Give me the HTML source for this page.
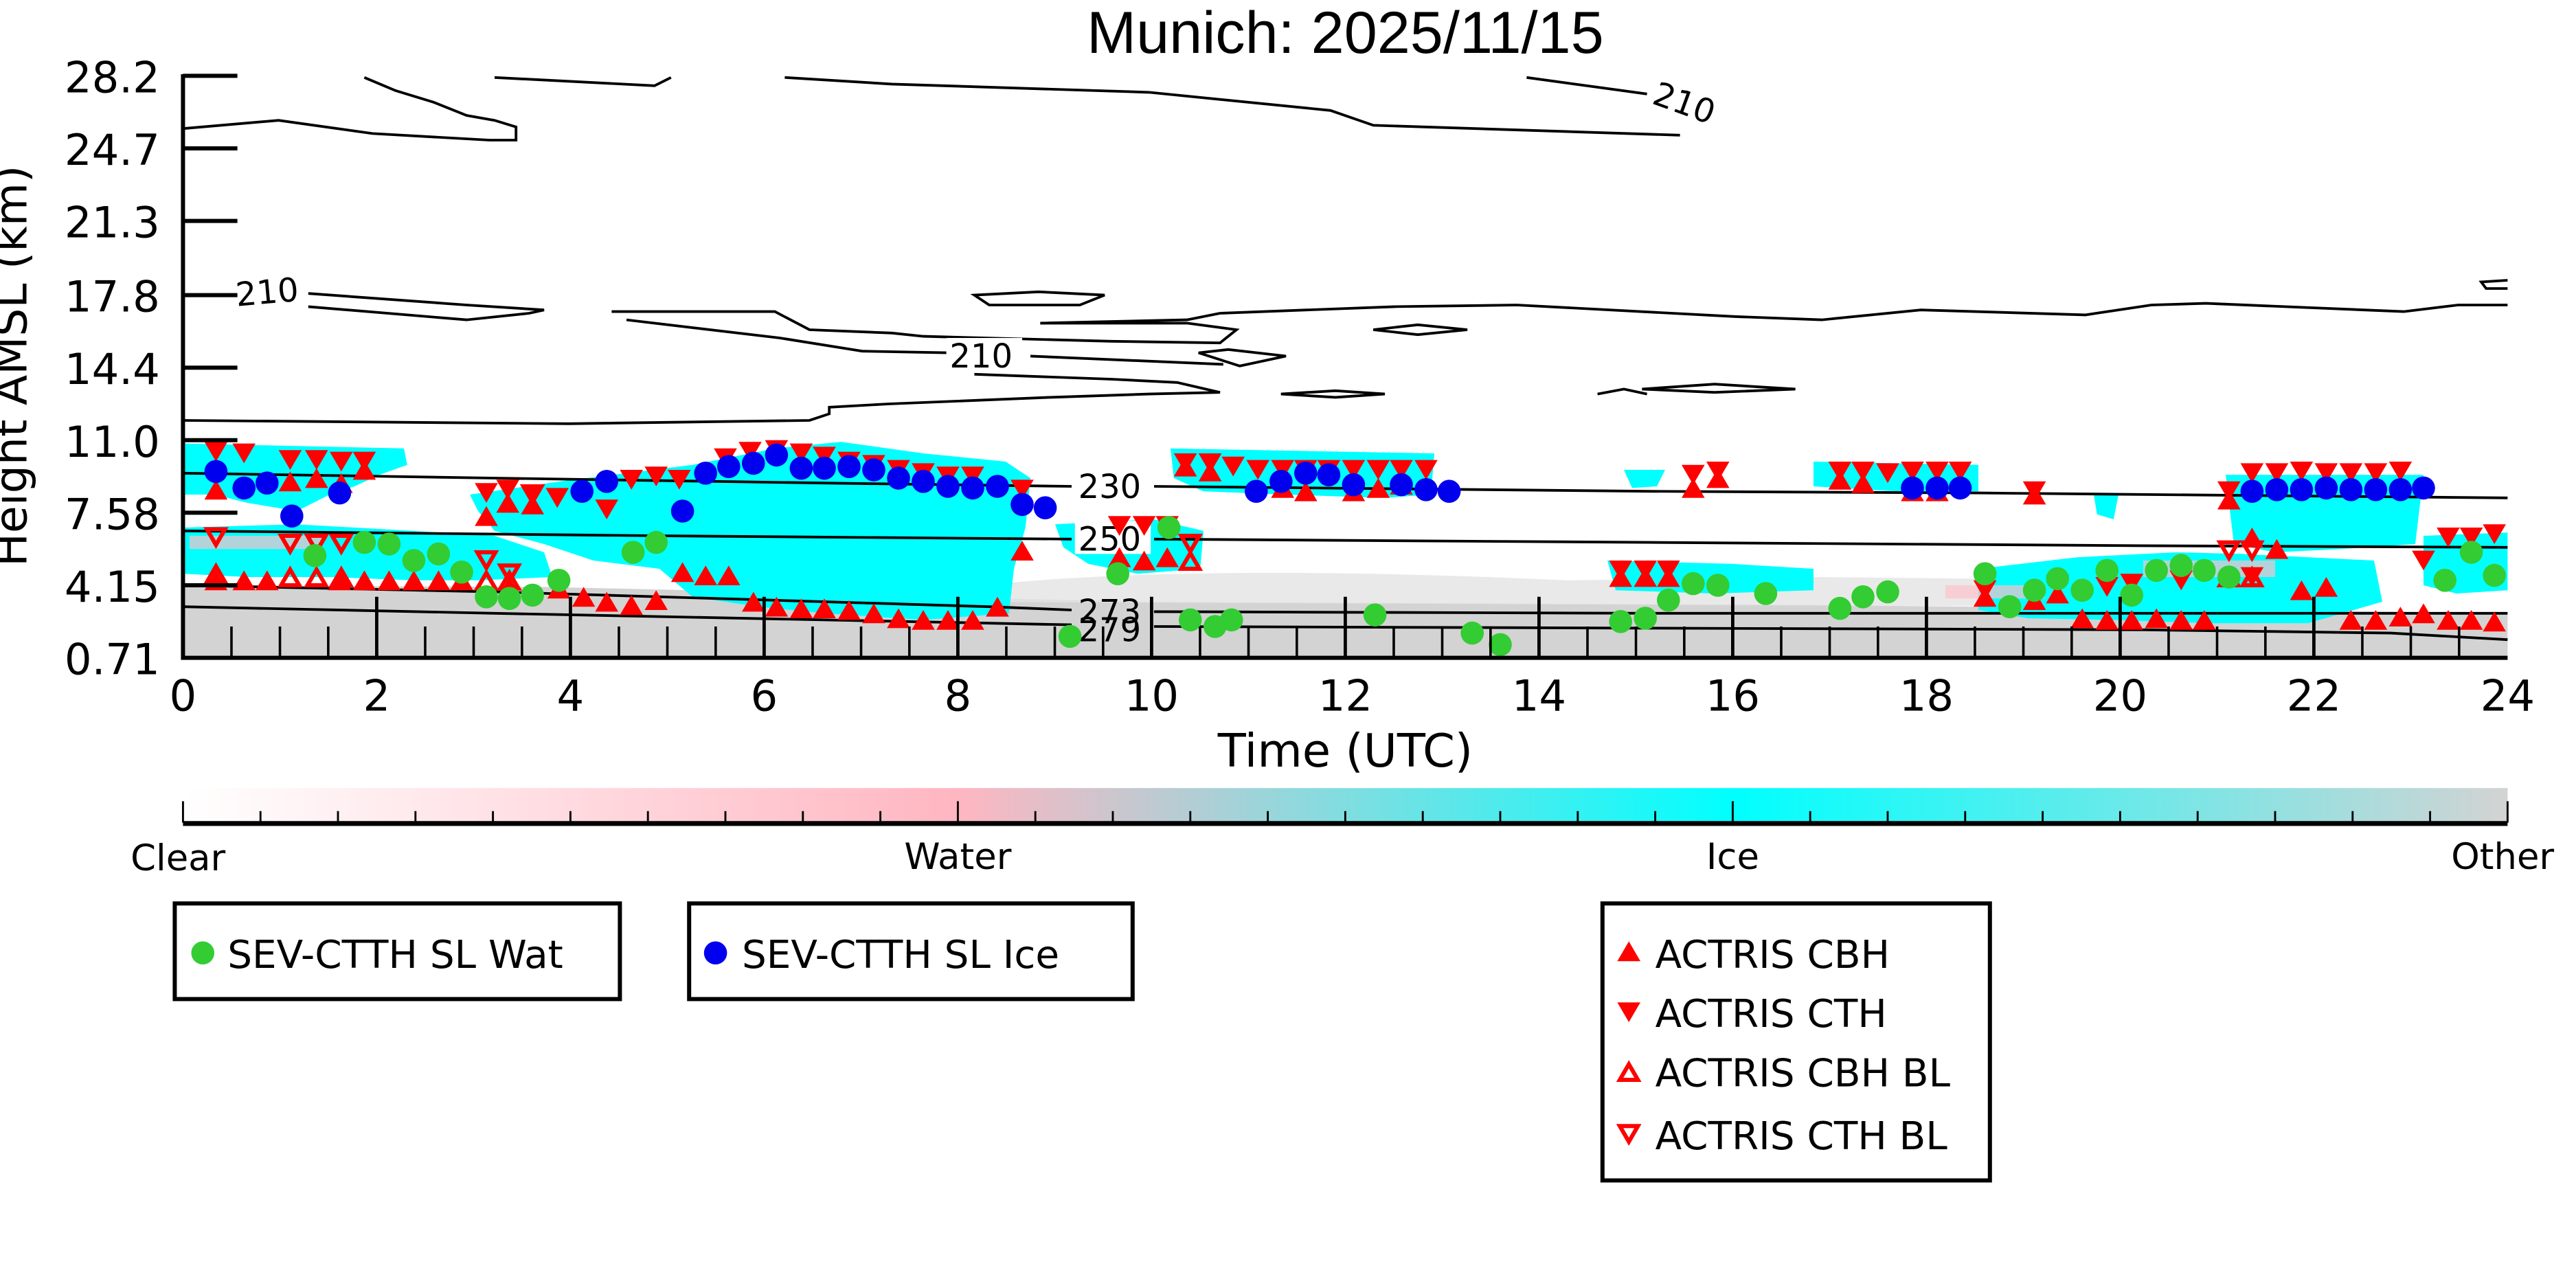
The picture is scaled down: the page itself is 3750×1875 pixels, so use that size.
<!DOCTYPE html>
<html><head><meta charset="utf-8"><style>html,body{margin:0;padding:0;background:#fff}svg{display:block}</style></head>
<body>
<svg width="3750" height="1875" viewBox="0 0 1562.5 781.25" xmlns="http://www.w3.org/2000/svg" font-family="DejaVu Sans, Liberation Sans, sans-serif">
<defs>
<linearGradient id="cb" x1="0" x2="1" y1="0" y2="0">
<stop offset="0" stop-color="#ffffff"/><stop offset="0.333" stop-color="#ffb6c1"/><stop offset="0.5" stop-color="#80dde0"/><stop offset="0.667" stop-color="#00ffff"/><stop offset="1" stop-color="#d3d3d3"/>
</linearGradient>
<path id="tu" d="M0,-6 L7,6 L-7,6 Z" fill="#ff0000"/>
<path id="td" d="M0,6 L7,-6 L-7,-6 Z" fill="#ff0000"/>
<path id="hu" d="M0,-4.5 L5.5,5 L-5.5,5 Z" fill="none" stroke="#ff0000" stroke-width="2.5"/>
<path id="hd" d="M0,4.5 L5.5,-5 L-5.5,-5 Z" fill="none" stroke="#ff0000" stroke-width="2.5"/>
<circle id="g" r="7" fill="#33cc33"/>
<circle id="b" r="7" fill="#0000ee"/>
</defs>
<rect width="1562.5" height="781.25" fill="#fff"/>
<text x="816" y="32" font-size="36" text-anchor="middle" font-family="Liberation Sans, sans-serif">Munich: 2025/11/15</text>

<path d="M111,355 L330,356 L420,358 L560,362 L700,365 L900,366 L1100,367 L1300,369 L1521,372 L1521,399 L111,399 Z" fill="#d3d3d3"/>
<path d="M560,360 C650,345 800,345 950,352 L1100,350 L1300,352 L1300,368 L560,365 Z" fill="#e4e4e4" opacity="0.8"/>

<g fill="#00ffff">
<path d="M111,269 L245,272 L247,282 L230,288 L215,295 L200,300 L180,310 L150,305 L130,300 L111,300 Z"/>
<path d="M111,320 L180,318 L250,322 L300,325 L330,335 L335,350 L290,352 L250,352 L200,350 L150,350 L111,348 Z"/>
<path d="M285,300 L340,292 L420,282 L470,272 L510,268 L560,275 L610,280 L625,290 L622,320 L615,345 L612,372 L560,376 L500,372 L460,368 L420,362 L400,345 L360,340 L330,330 L300,322 L290,310 Z"/>
<path d="M400,305 L440,300 L440,340 L400,340 Z"/>
<path d="M640,318 L700,315 L730,322 L728,345 L690,348 L660,342 L645,332 Z"/>
<path d="M710,272 L870,275 L868,300 L840,302 L780,300 L730,298 L712,290 Z"/>
<path d="M975,340 L1050,342 L1100,345 L1100,358 L1040,360 L980,358 Z"/>
<path d="M1100,280 L1200,282 L1200,298 L1150,298 L1100,295 Z"/>
<path d="M1200,345 L1260,338 L1320,335 L1360,336 L1440,340 L1445,365 L1400,378 L1340,378 L1280,376 L1230,375 L1200,370 Z"/>
<path d="M1350,288 L1470,288 L1465,330 L1420,333 L1380,335 L1355,330 Z"/>
<path d="M1470,325 L1521,323 L1521,358 L1490,360 L1470,355 Z"/>
<path d="M985,285 L1010,285 L1005,295 L990,296 Z"/>
<path d="M1270,300 L1285,300 L1282,315 L1272,312 Z"/>
</g>
<g fill="#ffc0cb" opacity="0.7">
<rect x="115" y="325" width="80" height="8"/>
<rect x="1300" y="340" width="80" height="10"/>
<rect x="1180" y="355" width="60" height="8"/>
</g>

<g fill="none" stroke="#000" stroke-width="1.6">
<path d="M111,287 L300,290 L500,293 L650,295 M700,295 L1000,298 L1200,299 L1521,302"/>
<path d="M111,322 L400,325 L650,327 M700,327 L1000,329 L1300,331 L1521,332"/>
<path d="M111,355 L300,359 L600,368 L650,370 M700,371 L1000,372 L1300,372 L1521,372"/>
<path d="M111,368 L300,372 L600,378 L650,379 M700,380 L1000,381 L1300,382 L1450,384 L1521,388"/>
<path d="M221,47 L240,55 L263,62 L283,70 L300,73 L313,77 L313,85 L297,85 L226,81 L169,73 L111,78"/>
<path d="M300,47 L397,52 L407,47 M476,47 L541,51 L697,56 L807,67 L833,76 L1019,82"/>
<path d="M926,47 L999,57"/>
<path d="M111,255 L345,257 L491,255 L503,251 L503,247 L539,245 L637,241 L697,239 L740,238 L714,232 L674,230 L591,227"/>
<path d="M187,178 L283,185 L330,188 L321,190 L283,194 L187,186"/>
<path d="M371,189 L470,189 L491,200 L541,202 L560,204 L674,207 L740,208 L750,200 L720,196 L631,196"/>
<path d="M380,194 L473,205 L523,213 L575,214 M625,216 L742,221"/>
<path d="M631,196 L720,194 L740,190 L846,186 L920,185 L1052,192 L1105,194 L1165,188 L1265,191 L1305,185 L1338,184 L1458,189 L1491,185 L1521,185"/>
<path d="M591,179 L630,177 L670,179 L655,185 L600,185 Z"/>
<path d="M833,200 L860,197 L890,200 L860,203 Z"/>
<path d="M727,214 L745,212 L780,216 L752,222 Z"/>
<path d="M777,239 L810,237 L840,239 L810,241 Z"/>
<path d="M969,239 L985,236 L999,239"/>
<path d="M996,236 L1040,233 L1089,236 L1040,238 Z"/>
<path d="M1521,170 L1505,171 L1508,175 L1521,175"/>
</g>
<g font-size="20" font-family="DejaVu Sans, sans-serif">
<rect x="141" y="166" width="44" height="20" fill="#fff"/><text x="143" y="184" transform="rotate(-5 163 178)">210</text>
<rect x="574" y="205" width="46" height="20" fill="#fff"/><text x="576" y="223">210</text>
<text x="1000" y="70" transform="rotate(20 1022 70)">210</text>
<rect x="652" y="284" width="46" height="20" fill="#fff"/><text x="654" y="302">230</text>
<rect x="652" y="316" width="46" height="20" fill="#fff"/><text x="654" y="334">250</text>
<text x="654" y="378">273</text>
<text x="654" y="389">279</text>
</g>

<g>
<use href="#td" x="131" y="274"/><use href="#td" x="148" y="275"/><use href="#td" x="176" y="279"/><use href="#td" x="192" y="279"/><use href="#td" x="207" y="280"/><use href="#td" x="221" y="280"/>
<use href="#tu" x="131" y="297"/><use href="#tu" x="176" y="292"/><use href="#tu" x="192" y="290"/><use href="#tu" x="221" y="285"/><use href="#tu" x="207" y="293"/>
<use href="#td" x="295" y="299"/><use href="#td" x="308" y="297"/><use href="#td" x="323" y="300"/><use href="#td" x="338" y="302"/>
<use href="#tu" x="295" y="313"/><use href="#tu" x="308" y="305"/><use href="#tu" x="323" y="306"/>
<use href="#td" x="383" y="291"/><use href="#td" x="398" y="289"/><use href="#td" x="412" y="291"/><use href="#td" x="368" y="309"/>
<use href="#td" x="440" y="278"/><use href="#td" x="455" y="274"/><use href="#td" x="471" y="273"/><use href="#td" x="486" y="275"/><use href="#td" x="500" y="277"/><use href="#td" x="515" y="280"/><use href="#td" x="530" y="282"/><use href="#td" x="545" y="285"/><use href="#td" x="560" y="287"/><use href="#td" x="575" y="289"/><use href="#td" x="590" y="289"/><use href="#td" x="620" y="297"/>
<use href="#tu" x="131" y="352"/><use href="#tu" x="148" y="352"/><use href="#tu" x="162" y="352"/><use href="#tu" x="206" y="352"/><use href="#tu" x="221" y="352"/><use href="#tu" x="236" y="352"/><use href="#tu" x="251" y="352"/><use href="#tu" x="266" y="352"/><use href="#tu" x="280" y="352"/><use href="#tu" x="309" y="356"/><use href="#tu" x="339" y="357"/><use href="#tu" x="354" y="362"/><use href="#tu" x="368" y="365"/><use href="#tu" x="383" y="367"/><use href="#tu" x="398" y="364"/>
<use href="#tu" x="414" y="347"/><use href="#tu" x="428" y="349"/><use href="#tu" x="442" y="349"/>
<use href="#tu" x="457" y="365"/><use href="#tu" x="471" y="368"/><use href="#tu" x="486" y="369"/><use href="#tu" x="500" y="369"/><use href="#tu" x="515" y="370"/><use href="#tu" x="530" y="372"/><use href="#tu" x="545" y="375"/><use href="#tu" x="560" y="376"/><use href="#tu" x="575" y="376"/><use href="#tu" x="590" y="376"/><use href="#tu" x="605" y="368"/><use href="#tu" x="620" y="334"/>
<use href="#hd" x="131" y="326"/><use href="#hd" x="176" y="330"/><use href="#hd" x="192" y="330"/><use href="#hd" x="207" y="330"/><use href="#hd" x="295" y="340"/><use href="#hd" x="309" y="348"/><use href="#hd" x="323" y="300"/>
<use href="#hu" x="131" y="348"/><use href="#hu" x="176" y="350"/><use href="#hu" x="192" y="350"/><use href="#hu" x="207" y="350"/><use href="#hu" x="295" y="352"/><use href="#hu" x="309" y="352"/>
<use href="#td" x="679" y="319"/><use href="#td" x="694" y="319"/><use href="#td" x="708" y="319"/><use href="#hd" x="722" y="330"/>
<use href="#tu" x="679" y="338"/><use href="#tu" x="694" y="340"/><use href="#tu" x="708" y="338"/><use href="#hu" x="722" y="340"/>
<use href="#td" x="719" y="281"/><use href="#td" x="734" y="281"/><use href="#td" x="748" y="283"/><use href="#td" x="763" y="285"/><use href="#td" x="778" y="285"/><use href="#td" x="792" y="285"/><use href="#td" x="806" y="285"/><use href="#td" x="821" y="285"/><use href="#td" x="836" y="285"/><use href="#td" x="850" y="285"/><use href="#td" x="865" y="285"/>
<use href="#tu" x="719" y="283"/><use href="#tu" x="734" y="286"/><use href="#tu" x="778" y="296"/><use href="#tu" x="792" y="298"/><use href="#tu" x="821" y="298"/><use href="#tu" x="836" y="296"/><use href="#tu" x="850" y="294"/>
<use href="#td" x="983" y="346"/><use href="#td" x="998" y="346"/><use href="#td" x="1012" y="346"/><use href="#tu" x="983" y="350"/><use href="#tu" x="998" y="350"/><use href="#tu" x="1012" y="350"/>
<use href="#td" x="1027" y="288"/><use href="#td" x="1042" y="286"/><use href="#tu" x="1027" y="296"/><use href="#tu" x="1042" y="290"/>
<use href="#td" x="1116" y="286"/><use href="#td" x="1130" y="286"/><use href="#td" x="1145" y="287"/><use href="#td" x="1160" y="286"/><use href="#td" x="1175" y="286"/><use href="#td" x="1189" y="286"/>
<use href="#tu" x="1116" y="291"/><use href="#tu" x="1130" y="293"/><use href="#tu" x="1160" y="298"/><use href="#tu" x="1175" y="298"/>
<use href="#td" x="1234" y="298"/><use href="#tu" x="1234" y="300"/>
<use href="#td" x="1352" y="298"/><use href="#td" x="1366" y="287"/><use href="#td" x="1381" y="287"/><use href="#td" x="1396" y="286"/><use href="#td" x="1411" y="287"/><use href="#td" x="1426" y="287"/><use href="#td" x="1441" y="287"/><use href="#td" x="1456" y="286"/>
<use href="#tu" x="1352" y="303"/><use href="#tu" x="1366" y="326"/><use href="#tu" x="1381" y="333"/>
<use href="#td" x="1204" y="358"/><use href="#td" x="1248" y="355"/><use href="#td" x="1278" y="356"/><use href="#td" x="1293" y="354"/><use href="#td" x="1323" y="352"/>
<use href="#tu" x="1204" y="362"/><use href="#tu" x="1234" y="364"/><use href="#tu" x="1248" y="360"/><use href="#tu" x="1263" y="375"/><use href="#tu" x="1278" y="376"/><use href="#tu" x="1293" y="376"/><use href="#tu" x="1308" y="375"/><use href="#tu" x="1323" y="376"/><use href="#tu" x="1337" y="376"/>
<use href="#hd" x="1352" y="334"/><use href="#hd" x="1366" y="334"/><use href="#hu" x="1352" y="350"/><use href="#hu" x="1366" y="350"/>
<use href="#td" x="1366" y="350"/><use href="#tu" x="1396" y="358"/><use href="#tu" x="1411" y="356"/><use href="#tu" x="1426" y="376"/><use href="#tu" x="1441" y="376"/><use href="#tu" x="1456" y="374"/><use href="#tu" x="1470" y="372"/><use href="#tu" x="1485" y="376"/><use href="#tu" x="1499" y="376"/><use href="#tu" x="1513" y="377"/>
<use href="#td" x="1485" y="326"/><use href="#td" x="1499" y="326"/><use href="#td" x="1513" y="324"/><use href="#td" x="1470" y="340"/>

<use href="#b" x="131" y="286"/><use href="#b" x="148" y="296"/><use href="#b" x="162" y="293"/><use href="#b" x="177" y="313"/><use href="#b" x="206" y="299"/><use href="#b" x="353" y="298"/><use href="#b" x="368" y="292"/><use href="#b" x="414" y="310"/><use href="#b" x="428" y="287"/><use href="#b" x="442" y="283"/><use href="#b" x="457" y="281"/><use href="#b" x="471" y="276"/><use href="#b" x="486" y="284"/><use href="#b" x="500" y="284"/><use href="#b" x="515" y="283"/><use href="#b" x="530" y="285"/><use href="#b" x="545" y="290"/><use href="#b" x="560" y="292"/><use href="#b" x="575" y="295"/><use href="#b" x="590" y="296"/><use href="#b" x="605" y="295"/><use href="#b" x="620" y="306"/><use href="#b" x="634" y="308"/><use href="#b" x="762" y="298"/><use href="#b" x="777" y="292"/><use href="#b" x="792" y="287"/><use href="#b" x="806" y="288"/><use href="#b" x="821" y="294"/><use href="#b" x="850" y="294"/><use href="#b" x="865" y="297"/><use href="#b" x="879" y="298"/><use href="#b" x="1160" y="296"/><use href="#b" x="1175" y="296"/><use href="#b" x="1189" y="296"/><use href="#b" x="1366" y="298"/><use href="#b" x="1381" y="297"/><use href="#b" x="1396" y="297"/><use href="#b" x="1411" y="296"/><use href="#b" x="1426" y="297"/><use href="#b" x="1441" y="297"/><use href="#b" x="1456" y="297"/><use href="#b" x="1470" y="296"/>

<use href="#g" x="191" y="337"/><use href="#g" x="221" y="329"/><use href="#g" x="236" y="330"/><use href="#g" x="251" y="340"/><use href="#g" x="266" y="336"/><use href="#g" x="280" y="347"/><use href="#g" x="295" y="362"/><use href="#g" x="309" y="363"/><use href="#g" x="323" y="361"/><use href="#g" x="339" y="352"/><use href="#g" x="384" y="335"/><use href="#g" x="398" y="329"/><use href="#g" x="678" y="348"/><use href="#g" x="709" y="320"/><use href="#g" x="722" y="376"/><use href="#g" x="737" y="380"/><use href="#g" x="747" y="376"/><use href="#g" x="834" y="373"/><use href="#g" x="893" y="384"/><use href="#g" x="910" y="391"/><use href="#g" x="649" y="386"/><use href="#g" x="983" y="377"/><use href="#g" x="998" y="375"/><use href="#g" x="1012" y="364"/><use href="#g" x="1027" y="354"/><use href="#g" x="1042" y="355"/><use href="#g" x="1071" y="360"/><use href="#g" x="1116" y="369"/><use href="#g" x="1130" y="362"/><use href="#g" x="1145" y="359"/><use href="#g" x="1204" y="348"/><use href="#g" x="1219" y="368"/><use href="#g" x="1234" y="358"/><use href="#g" x="1248" y="351"/><use href="#g" x="1263" y="358"/><use href="#g" x="1278" y="346"/><use href="#g" x="1293" y="361"/><use href="#g" x="1308" y="346"/><use href="#g" x="1323" y="343"/><use href="#g" x="1337" y="346"/><use href="#g" x="1352" y="350"/><use href="#g" x="1483" y="352"/><use href="#g" x="1499" y="335"/><use href="#g" x="1513" y="349"/>
</g>

<g stroke="#000" fill="none">
<path d="M111,45 L111,399 L1521,399" stroke-width="2.5"/>
<path stroke-width="2.5" d="M111,46 H144 M111,90 H144 M111,134 H144 M111,179 H144 M111,223 H144 M111,267 H144 M111,311 H144 M111,355 H144"/>
<path stroke-width="2" d="M228.5,399 V362 M346,399 V362 M463.5,399 V362 M581,399 V362 M698.5,399 V362 M816,399 V362 M933.5,399 V362 M1051,399 V362 M1168.5,399 V362 M1286,399 V362 M1403.5,399 V362"/>
<path stroke-width="1.5" d="M140.4,399 V380 M169.8,399 V380 M199.1,399 V380 M257.9,399 V380 M287.3,399 V380 M316.6,399 V380 M375.4,399 V380 M404.8,399 V380 M434.1,399 V380 M492.9,399 V380 M522.3,399 V380 M551.6,399 V380 M610.4,399 V380 M639.8,399 V380 M669.1,399 V380 M727.9,399 V380 M757.3,399 V380 M786.6,399 V380 M845.4,399 V380 M874.8,399 V380 M904.1,399 V380 M962.9,399 V380 M992.3,399 V380 M1021.6,399 V380 M1080.4,399 V380 M1109.8,399 V380 M1139.1,399 V380 M1197.9,399 V380 M1227.3,399 V380 M1256.6,399 V380 M1315.4,399 V380 M1344.8,399 V380 M1374.1,399 V380 M1432.9,399 V380 M1462.3,399 V380 M1491.6,399 V380"/>
</g>
<g font-size="26" text-anchor="end">
<text x="97" y="56">28.2</text><text x="97" y="100">24.7</text><text x="97" y="144">21.3</text><text x="97" y="189">17.8</text><text x="97" y="233">14.4</text><text x="97" y="277">11.0</text><text x="97" y="321">7.58</text><text x="97" y="365">4.15</text><text x="97" y="409">0.71</text>
</g>
<g font-size="26" text-anchor="middle">
<text x="111" y="431">0</text><text x="228.5" y="431">2</text><text x="346" y="431">4</text><text x="463.5" y="431">6</text><text x="581" y="431">8</text><text x="698.5" y="431">10</text><text x="816" y="431">12</text><text x="933.5" y="431">14</text><text x="1051" y="431">16</text><text x="1168.5" y="431">18</text><text x="1286" y="431">20</text><text x="1403.5" y="431">22</text><text x="1521" y="431">24</text>
<text x="816" y="465" font-size="28">Time (UTC)</text>
<text x="0" y="0" font-size="27" transform="translate(16,222) rotate(-90)">Height AMSL (km)</text>
</g>

<rect x="111" y="478" width="1410" height="21" fill="url(#cb)"/>
<path d="M111,499.5 H1521" stroke="#000" stroke-width="3"/>
<g stroke="#000" stroke-width="1.2">
<path d="M111,499 V486 M581,499 V486 M1051,499 V486 M1521,499 V486"/>
<path d="M158,499 V492 M205,499 V492 M252,499 V492 M299,499 V492 M346,499 V492 M393,499 V492 M440,499 V492 M487,499 V492 M534,499 V492 M628,499 V492 M675,499 V492 M722,499 V492 M769,499 V492 M816,499 V492 M863,499 V492 M910,499 V492 M957,499 V492 M1004,499 V492 M1098,499 V492 M1145,499 V492 M1192,499 V492 M1239,499 V492 M1286,499 V492 M1333,499 V492 M1380,499 V492 M1427,499 V492 M1474,499 V492"/>
</g>
<g font-size="22" text-anchor="middle">
<text x="108" y="528">Clear</text><text x="581" y="527">Water</text><text x="1051" y="527">Ice</text><text x="1518" y="527">Other</text>
</g>

<g fill="none" stroke="#000" stroke-width="2.5">
<rect x="106" y="548" width="270" height="58"/>
<rect x="418" y="548" width="269" height="58"/>
<rect x="972" y="548" width="235" height="168"/>
</g>
<use href="#g" x="123" y="578"/>
<use href="#b" x="434" y="578"/>
<g font-size="23.5">
<text x="138" y="587">SEV-CTTH SL Wat</text>
<text x="450" y="587">SEV-CTTH SL Ice</text>
<text x="1004" y="587">ACTRIS CBH</text>
<text x="1004" y="623">ACTRIS CTH</text>
<text x="1004" y="659">ACTRIS CBH BL</text>
<text x="1004" y="697">ACTRIS CTH BL</text>
</g>
<use href="#tu" x="988" y="577"/>
<use href="#td" x="988" y="614"/>
<use href="#hu" x="988" y="650"/>
<use href="#hd" x="988" y="688"/>
</svg>
</body></html>
